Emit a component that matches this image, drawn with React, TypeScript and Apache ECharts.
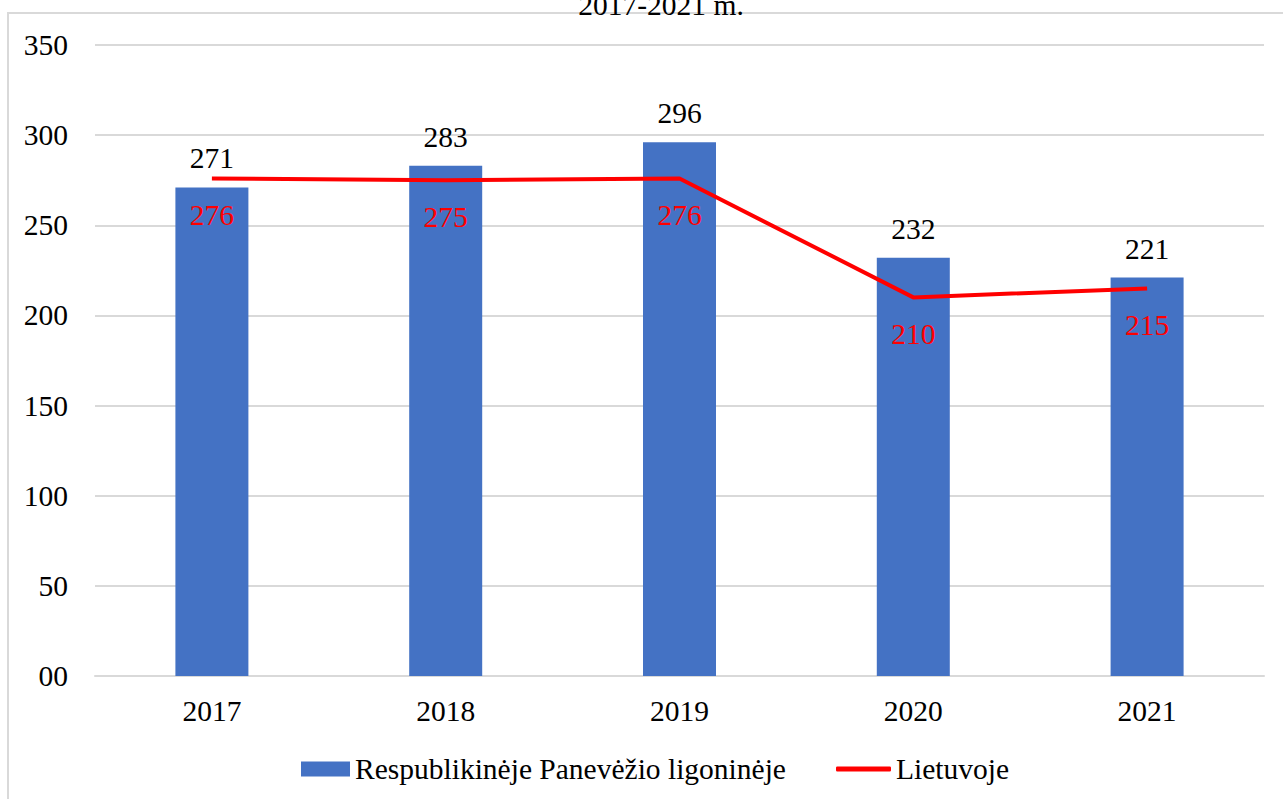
import React, { useEffect, useRef } from "react";
import * as echarts from "echarts";

const categories = ["2017", "2018", "2019", "2020", "2021"];
const hospitalValues = [271, 283, 296, 232, 221];
const lithuaniaValues = [276, 275, 276, 210, 215];
const seriesNames = ["Respublikinėje Panevėžio ligoninėje", "Lietuvoje"];
const titleText = "2017-2021 m.";

const FONT = "Liberation Serif, Times New Roman, serif";
const FS = 29.5;

export default function App() {
  const ref = useRef<HTMLDivElement>(null);
  useEffect(() => {
    if (!ref.current) return;
    const chart = echarts.init(ref.current, null, { renderer: "svg" });
    chart.setOption({
      animation: false,
      backgroundColor: "#ffffff",
      textStyle: { fontFamily: FONT },
      graphic: [
        {
          type: "rect",
          shape: { x: 8, y: 13, width: 1400, height: 900 },
          style: { fill: "none", stroke: "#d9d9d9", lineWidth: 2 },
          silent: true,
        },
        {
          type: "text",
          x: 661,
          y: -10,
          style: {
            text: titleText,
            fontSize: FS,
            fontFamily: FONT,
            fill: "#000",
            align: "center",
            verticalAlign: "top",
          },
        },
      ],
      grid: { left: 95, right: 19, top: 45, bottom: 123, containLabel: false },
      legend: [
        {
          left: 296,
          top: 749,
          itemWidth: 49,
          itemHeight: 15,
          itemGap: 50,
          textStyle: { fontSize: FS, color: "#000", fontFamily: FONT },
          data: [{ name: seriesNames[0], icon: "rect" }],
        },
        {
          left: 831,
          top: 749,
          itemWidth: 55,
          itemHeight: 5,
          textStyle: { fontSize: FS, color: "#000", fontFamily: FONT },
          data: [{ name: seriesNames[1], icon: "roundRect" }],
        },
      ],
      xAxis: {
        type: "category",
        data: categories,
        axisLine: { show: true, lineStyle: { color: "#d9d9d9", width: 2 } },
        axisTick: { show: false },
        axisLabel: { fontSize: FS, color: "#000", margin: 20, fontFamily: FONT },
      },
      yAxis: {
        type: "value",
        min: 0,
        max: 350,
        interval: 50,
        axisLine: { show: false },
        axisTick: { show: false },
        splitLine: { lineStyle: { color: "#d9d9d9", width: 2 } },
        axisLabel: {
          fontSize: FS,
          color: "#000",
          margin: 27,
          fontFamily: FONT,
          formatter: (v: number) => (v === 0 ? "00" : String(v)),
        },
      },
      series: [
        {
          name: seriesNames[0],
          type: "bar",
          data: hospitalValues,
          barWidth: 73,
          itemStyle: { color: "#4472c4" },
          label: {
            show: true,
            position: "top",
            distance: 14,
            fontSize: FS,
            color: "#000",
            fontFamily: FONT,
          },
        },
        {
          name: seriesNames[1],
          type: "line",
          data: lithuaniaValues,
          symbol: "circle",
          symbolSize: 0.1,
          showSymbol: true,
          lineStyle: { color: "#ff0000", width: 4 },
          itemStyle: { color: "#ff0000" },
          label: {
            show: true,
            position: "bottom",
            distance: 22,
            fontSize: FS,
            color: "#ff0000",
            fontFamily: FONT,
          },
          z: 3,
        },
      ],
    });
    return () => chart.dispose();
  }, []);
  return (
    <div
      ref={ref}
      style={{ position: "absolute", left: 0, top: 0, width: 1283, height: 799 }}
    />
  );
}
